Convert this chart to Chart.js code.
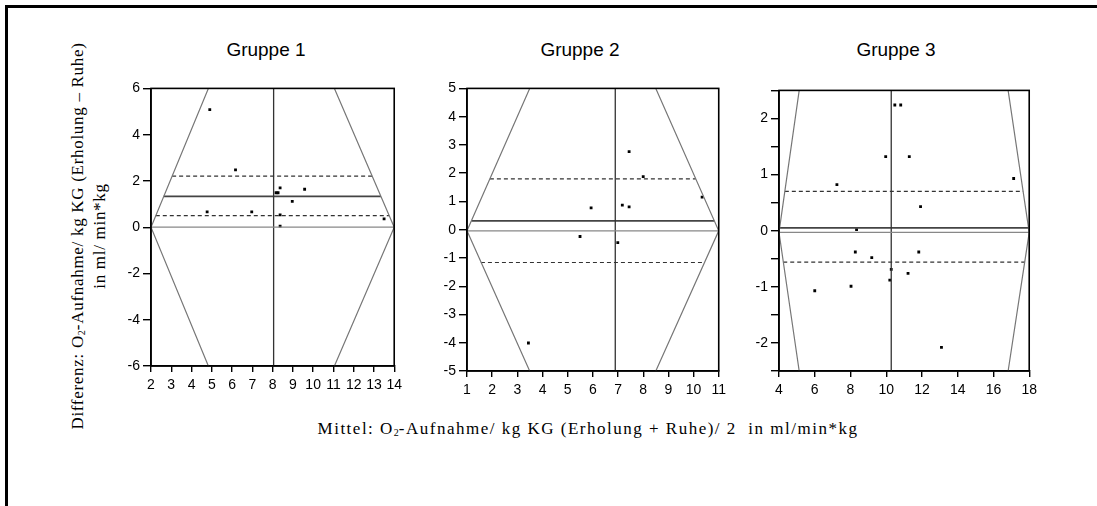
<!DOCTYPE html>
<html>
<head>
<meta charset="utf-8">
<script src="https://cdn.jsdelivr.net/npm/chart.js@4"></script>
<style>
  body { margin: 0; background: #fff; width: 1097px; height: 506px; overflow: hidden; position: relative; font-family: "Liberation Sans", Arial, sans-serif; }
  .frame { position: absolute; left: 5px; top: 5px; width: 1200px; height: 600px; border: 3px solid #000; }
  .panel { position: absolute; }
  .gtitle { position: absolute; top: 39px; font-size: 19px; transform: translateX(-50%); white-space: nowrap; color: #000; }
  .ytitle { position: absolute; left: 89px; top: 236px; transform: translate(-50%, -50%) rotate(-90deg); font-family: "Liberation Serif", "Times New Roman", serif; font-size: 17px; letter-spacing: 0.7px; line-height: 18px; text-align: center; white-space: nowrap; }
  .xtitle { position: absolute; left: 588px; top: 419px; transform: translateX(-50%); font-family: "Liberation Serif", "Times New Roman", serif; font-size: 17px; letter-spacing: 1.5px; white-space: nowrap; }
  sub { font-size: 10px; vertical-align: -2px; letter-spacing: 0; }
</style>
</head>
<body>
<div class="frame"></div>
<div class="gtitle" style="left:266px">Gruppe 1</div>
<div class="gtitle" style="left:580px">Gruppe 2</div>
<div class="gtitle" style="left:896px">Gruppe 3</div>
<div class="ytitle">Differenz: O<sub>2</sub>-Aufnahme/ kg KG (Erholung – Ruhe)<br>in ml/ min*kg</div>
<div class="xtitle">Mittel: O<sub>2</sub>-Aufnahme/ kg KG (Erholung + Ruhe)/ 2&nbsp;&nbsp;in ml/min*kg</div>

<div class="panel" id="p1"><canvas id="c1"></canvas></div>
<div class="panel" id="p2"><canvas id="c2"></canvas></div>
<div class="panel" id="p3"><canvas id="c3"></canvas></div>

<script>
// ---- Gruppe 1 ----
const g1X = [4.90, 6.17, 8.37, 8.17, 8.27, 9.58, 8.97, 4.77, 6.97, 8.37, 8.37, 13.5];
const g1Y = [5.08, 2.48, 1.70, 1.49, 1.49, 1.64, 1.12, 0.66, 0.66, 0.53, 0.05, 0.36];
const g1Lines = [1.33, 2.21, 0.50];        // mean, upper, lower
const g1Median = 8.05;
const g1Zero = 0;
const g1Funnel = [2, 4.83, 11.05, 14];     // left apex, left edge, right edge, right apex
const g1XTicks = [2, 14, 1];
const g1YTicks = [-6, 6, 2];

// ---- Gruppe 2 ----
const g2X = [7.44, 8.0, 5.93, 7.17, 7.44, 5.49, 6.99, 10.34, 3.44];
const g2Y = [2.76, 1.88, 0.77, 0.87, 0.81, -0.24, -0.46, 1.15, -4.01];
const g2Lines = [0.31, 1.80, -1.16];
const g2Median = 6.89;
const g2Zero = -0.04;
const g2Funnel = [1, 3.49, 8.5, 11];
const g2XTicks = [1, 11, 1];
const g2YTicks = [-5, 5, 1];

// ---- Gruppe 3 ----
const g3X = [10.48, 10.81, 9.97, 11.29, 7.24, 17.13, 11.92, 8.34, 8.27, 11.82, 9.19, 10.28, 11.22, 10.2, 8.03, 6.0, 13.09];
const g3Y = [2.24, 2.24, 1.32, 1.32, 0.82, 0.93, 0.43, 0.02, -0.38, -0.38, -0.48, -0.69, -0.76, -0.88, -0.99, -1.07, -2.08];
const g3Lines = [0.05, 0.70, -0.56];
const g3Median = 10.28;
const g3Zero = -0.03;
const g3Funnel = [4, 5.13, 16.82, 18];
const g3XTicks = [4, 18, 2];
const g3YTicks = [-2.5, 2.5, 0.5];

// plot boxes in page pixels: left, top, right, bottom
const boxes = [[151, 83, 397, 366], [467, 83, 721, 371], [779, 85, 1032, 371]];
const YW = 40, XH = 30, PT = 6, PR = 10;

const frameBox = {
  id: "frameBox",
  afterDraw(chart) {
    const a = chart.chartArea, ctx = chart.ctx;
    ctx.save();
    ctx.strokeStyle = "#000";
    ctx.lineWidth = 1.6;
    ctx.strokeRect(a.left, a.top, a.right - a.left, a.bottom - a.top);
    ctx.restore();
  }
};

function lineSet(pts, color, width, dash) {
  return {
    type: "scatter", data: pts, showLine: true, pointRadius: 0,
    borderColor: color, borderWidth: width, borderDash: dash || [],
    fill: false
  };
}

function makePanel(n, xs, ys, hLines, median, zero, funnel, xt, yt, minorY) {
  const [L, T, R, B] = boxes[n - 1];
  const div = document.getElementById("p" + n);
  div.style.left = (L - YW) + "px";
  div.style.top = (T - PT) + "px";
  div.style.width = (R - L + YW + PR) + "px";
  div.style.height = (B - T + PT + XH) + "px";

  const yMax = yt[1], yMin = yt[0];
  // x of funnel edge at height y
  const leftAt = y => funnel[0] + (funnel[1] - funnel[0]) * Math.abs(y - zero) / (yMax - zero);
  const rightAt = y => funnel[3] - (funnel[3] - funnel[2]) * Math.abs(y - zero) / (yMax - zero);

  const pts = xs.map((x, i) => ({ x: x, y: ys[i] }));
  const hl = y => [{ x: leftAt(y), y: y }, { x: rightAt(y), y: y }];

  const datasets = [
    lineSet([{ x: funnel[1], y: yMax }, { x: funnel[0], y: zero }, { x: funnel[1], y: yMin }], "#777", 1.2),
    lineSet([{ x: funnel[2], y: yMax }, { x: funnel[3], y: zero }, { x: funnel[2], y: yMin }], "#777", 1.2),
    lineSet([{ x: xt[0], y: zero }, { x: xt[1], y: zero }], "#888", 1.3),
    lineSet([{ x: median, y: yMin }, { x: median, y: yMax }], "#333", 1.3),
    lineSet(hl(hLines[0]), "#444", 1.7),
    lineSet(hl(hLines[1]), "#333", 1.2, [4, 3]),
    lineSet(hl(hLines[2]), "#333", 1.2, [4, 3]),
    {
      type: "scatter", data: pts, pointStyle: "rect", pointRadius: 2,
      backgroundColor: "#000", borderWidth: 0
    }
  ];

  const tickFont = { family: "'Liberation Sans', Arial, sans-serif", size: 14 };

  return new Chart(document.getElementById("c" + n), {
    type: "scatter",
    data: { datasets: datasets },
    options: {
      responsive: true,
      maintainAspectRatio: false,
      animation: false,
      layout: { padding: { top: PT, right: PR, left: 0, bottom: 0 } },
      plugins: { legend: { display: false }, tooltip: { enabled: false } },
      scales: {
        x: {
          type: "linear", min: xt[0], max: xt[1],
          afterFit: s => { s.height = XH; },
          ticks: { stepSize: xt[2], color: "#000", font: tickFont, padding: 5, maxRotation: 0, autoSkip: false },
          grid: { display: true, drawOnChartArea: false, drawTicks: true, tickLength: 6, color: "#000", lineWidth: 1.4 },
          border: { display: true, color: "#000", width: 1.6 }
        },
        y: {
          type: "linear", min: yMin, max: yMax,
          afterFit: s => { s.width = YW; },
          ticks: {
            stepSize: yt[2], color: "#000", font: tickFont, padding: 3, autoSkip: false,
            callback: v => (minorY && v % 1 !== 0) ? "" : v
          },
          grid: { display: true, drawOnChartArea: false, drawTicks: true, tickLength: 8, color: "#000", lineWidth: 1.4 },
          border: { display: true, color: "#000", width: 1.6 }
        }
      }
    },
    plugins: [frameBox]
  });
}

makePanel(1, g1X, g1Y, g1Lines, g1Median, g1Zero, g1Funnel, g1XTicks, g1YTicks, false);
makePanel(2, g2X, g2Y, g2Lines, g2Median, g2Zero, g2Funnel, g2XTicks, g2YTicks, false);
makePanel(3, g3X, g3Y, g3Lines, g3Median, g3Zero, g3Funnel, g3XTicks, g3YTicks, true);
</script>
</body>
</html>
